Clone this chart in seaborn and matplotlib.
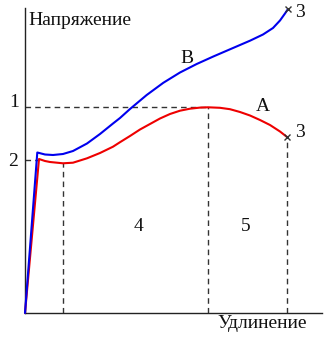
import matplotlib
matplotlib.use("Agg")
import matplotlib.pyplot as plt
import seaborn as sns
import numpy as np

sns.set_style("white")
plt.rcParams['font.family'] = ['Liberation Serif', 'DejaVu Serif']

# Curve B (blue): elongation / stress
b_x = [0, 12.3, 20, 28, 38, 48, 62, 75, 88, 95, 105, 121.7, 138.3, 155, 171.7, 188.3, 205, 225, 238, 248, 255, 260, 263]
b_y = [0, 160.5, 158.5, 158, 159, 162, 169.5, 179, 189.5, 195, 204, 218, 230.2, 240.5, 249, 256.5, 263.7, 272.3, 278.5, 285, 292.5, 299.5, 304]

# Curve A (red)
a_x = [0, 14, 20, 25, 38, 48, 62, 75, 88, 95, 105, 115, 125, 135, 145, 155, 165, 175, 183, 195, 205, 215, 225, 235, 245, 255, 262]
a_y = [0, 154, 152, 151, 149.7, 150.3, 154.7, 160, 166.3, 170.8, 177, 183.5, 189, 194.5, 199, 202.3, 204.3, 205.4, 205.7, 205.2, 203.8, 201, 197.5, 193, 188, 181.5, 176]

yield_idx = 1   # point "2"
min_idx = 4     # lower yield point
peak_idx = 18   # point "1"

W, H = 330, 339
fig = plt.figure(figsize=(W / 100, H / 100), dpi=100)
ax = fig.add_axes([25 / W, (H - 313) / H, 297 / W, 305 / H])
ax.set_xlim(0, 297)
ax.set_ylim(0, 305)

dash_kw = dict(color="#333333", lw=1, ls=(0, (4, 3)), zorder=1)
# horizontal dashed guides
ax.plot([0, a_x[peak_idx]], [a_y[peak_idx], a_y[peak_idx]], **dash_kw)
ax.plot([0, a_x[yield_idx]], [a_y[yield_idx] - 1, a_y[yield_idx] - 1], **dash_kw)
# vertical dashed guides
ax.plot([a_x[min_idx], a_x[min_idx]], [0, a_y[min_idx]], **dash_kw)
ax.plot([a_x[peak_idx], a_x[peak_idx]], [0, a_y[peak_idx]], **dash_kw)
ax.plot([a_x[-1], a_x[-1]], [0, a_y[-1]], **dash_kw)

sns.lineplot(x=a_x, y=a_y, sort=False, color="#ee0000", lw=1.5, ax=ax, zorder=3)
sns.lineplot(x=b_x, y=b_y, sort=False, color="#0000ee", lw=1.5, ax=ax, zorder=3)
for ln in ax.lines:
    ln.set_clip_on(False)

# end markers
ax.plot([b_x[-1], a_x[-1]], [b_y[-1], a_y[-1]], ls="none", marker="x",
        ms=5, mew=1, color="#333333", zorder=4, clip_on=False)

for s in ["top", "right"]:
    ax.spines[s].set_visible(False)
for s in ["left", "bottom"]:
    ax.spines[s].set_color("#222222")
    ax.spines[s].set_linewidth(1)
ax.set_xticks([])
ax.set_yticks([])

fs = 14
tkw = dict(fontsize=fs, color="#111111", clip_on=False)
ax.text(3, 288, "Напряжение", ha="left", va="baseline", **tkw)
ax.text(237, -15.5, "Удлинение", ha="center", va="baseline", **tkw)
ax.text(-11, 206, "1", ha="center", va="baseline", **tkw)
ax.text(-12, 147, "2", ha="center", va="baseline", **tkw)
ax.text(274.5, 296, "3", ha="center", va="baseline", **tkw)
ax.text(274.5, 176, "3", ha="center", va="baseline", **tkw)
ax.text(238, 202, "A", ha="center", va="baseline", **tkw)
ax.text(161.5, 250, "B", ha="center", va="baseline", **tkw)
ax.text(113.5, 82, "4", ha="center", va="baseline", **tkw)
ax.text(221, 82, "5", ha="center", va="baseline", **tkw)

fig.savefig("out.png", dpi=100)
